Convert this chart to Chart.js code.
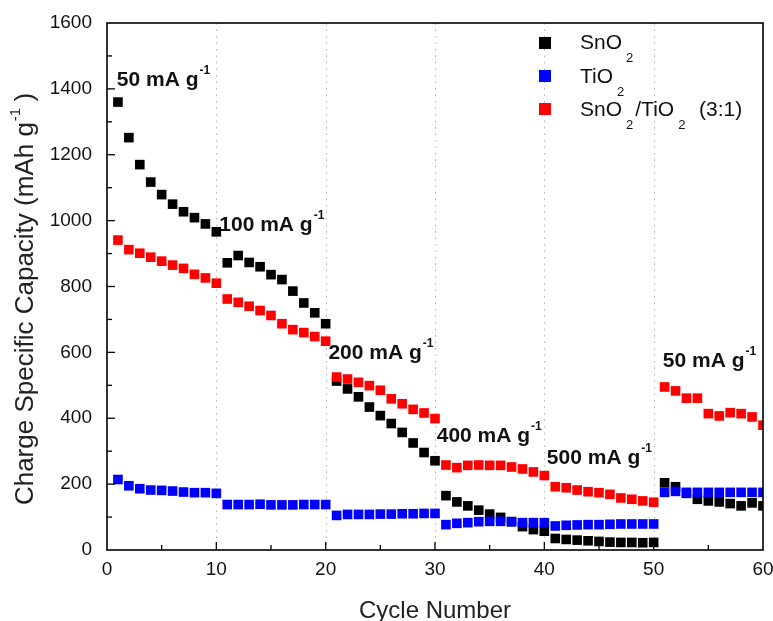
<!DOCTYPE html>
<html><head><meta charset="utf-8">
<script src="https://cdn.jsdelivr.net/npm/chart.js@4"></script>
<style>html,body{margin:0;padding:0;background:#fff}canvas{display:block}</style>
</head><body>
<canvas id="c" width="773" height="621"></canvas>
<script>
const cycles = [1,2,3,4,5,6,7,8,9,10,11,12,13,14,15,16,17,18,19,20,21,22,23,24,25,26,27,28,29,30,31,32,33,34,35,36,37,38,39,40,41,42,43,44,45,46,47,48,49,50,51,52,53,54,55,56,57,58,59,60];
const sno2 = [1360,1252,1170,1117,1079,1050,1027,1009,990,966, 872,894,873,860,836,821,786,750,720,687, 513,489,465,434,408,384,357,325,296,271, 165,146,134,121,109,99,86,71,62,57, 35,32,30,28,26,24,23,23,22,23, 204,192,172,154,149,146,141,134,143,134];
const tio2 = [214,195,186,182,181,179,176,174,174,172, 138,138,138,139,137,137,137,138,138,138, 105,108,108,108,109,109,110,110,111,111, 77,81,83,86,87,87,86,83,83,83, 73,75,76,77,77,78,79,79,79,79, 175,178,175,175,175,175,175,175,175,175];
const composite = [941,912,901,889,877,865,855,837,826,810, 762,752,740,727,712,687,669,660,648,634, 525,519,509,499,485,459,444,427,416,399, 258,250,257,258,257,257,252,246,237,226, 192,189,182,177,174,169,158,154,149,145, 495,483,461,461,414,407,417,414,404,379];
const seriesNames = ['SnO2','TiO2','SnO2/TiO2 (3:1)'];
const seriesColors = ['#000000','#0000ff','#ff0000'];
const xTicks = [0,10,20,30,40,50,60];
const yTicks = [0,200,400,600,800,1000,1200,1400,1600];
// rate labels: [text, cycle anchor, capacity anchor]
const rateLabels = [['50 mA g',0.9,1409],['100 mA g',10.27,970],['200 mA g',20.25,581],['400 mA g',30.16,328],['500 mA g',40.23,260],['50 mA g',50.84,556]];

const FONT = '"Liberation Sans", Arial, sans-serif';
const toPts = arr => arr.map((v,i)=>({x:cycles[i], y:v}));

const decor = {
  id:'decor',
  beforeDatasetsDraw(chart){
    const {ctx, chartArea:a, scales:{x}} = chart;
    ctx.save();
    ctx.strokeStyle = '#b4b4b4'; ctx.lineWidth = 1; ctx.setLineDash([1.5,5]);
    [10,20,30,40,50].forEach(v=>{
      const px = Math.round(x.getPixelForValue(v))+0.5;
      ctx.beginPath(); ctx.moveTo(px,a.top); ctx.lineTo(px,a.bottom); ctx.stroke();
    });
    ctx.restore();
  },
  afterDatasetsDraw(chart){
    const {ctx, chartArea:a, scales:{x,y}} = chart;
    ctx.save();
    // frame
    ctx.strokeStyle='#000'; ctx.lineWidth=1.6;
    ctx.strokeRect(a.left, a.top, a.right-a.left, a.bottom-a.top);
    // ticks
    ctx.lineWidth=1.3;
    for(let v=100; v<1600; v+=100){
      const py = y.getPixelForValue(v); const len = (v%200===0)?8:5;
      ctx.beginPath(); ctx.moveTo(a.left,py); ctx.lineTo(a.left+len,py); ctx.stroke();
    }
    for(let v=5; v<60; v+=5){
      const px = x.getPixelForValue(v); const len = (v%10===0)?8:5;
      ctx.beginPath(); ctx.moveTo(px,a.bottom); ctx.lineTo(px,a.bottom-len); ctx.stroke();
    }
    // rate labels
    ctx.fillStyle='#111'; ctx.textBaseline='alphabetic'; ctx.textAlign='left';
    rateLabels.forEach(([t,cx,cy])=>{
      const px=x.getPixelForValue(cx), py=y.getPixelForValue(cy);
      ctx.font='bold 21px '+FONT; ctx.fillText(t,px,py);
      const w=ctx.measureText(t).width;
      ctx.font='bold 12px '+FONT; ctx.fillText('-1',px+w+1,py-12);
    });
    // legend
    const lx=545, rows=[43,76,109];
    rows.forEach((ry,i)=>{
      ctx.fillStyle=seriesColors[i];
      ctx.fillRect(lx-6,ry-6,12,12);
    });
    ctx.fillStyle='#111';
    const drawParts=(parts,x0,base)=>{
      let cx=x0;
      parts.forEach(([s,sub])=>{
        if(sub){ ctx.font='13px '+FONT; ctx.fillText(s,cx+4,base+13); cx+=ctx.measureText(s).width+6; }
        else { ctx.font='21px '+FONT; ctx.fillText(s,cx,base); cx+=ctx.measureText(s).width; }
      });
    };
    drawParts([['SnO'],['2',1]],580,49);
    drawParts([['TiO'],['2',1]],580,83);
    drawParts([['SnO'],['2',1],['/TiO'],['2',1],['  (3:1)']],580,116);
    // axis titles
    ctx.fillStyle='#222';
    ctx.font='24px '+FONT; ctx.textAlign='center';
    ctx.fillText('Cycle Number',(a.left+a.right)/2,618);
    ctx.save();
    ctx.translate(33,299); ctx.rotate(-Math.PI/2);
    ctx.textAlign='left';
    const p1='Charge Specific Capacity (mAh g', p3=' )';
    ctx.font='26px '+FONT; const w1=ctx.measureText(p1).width, w3=ctx.measureText(p3).width;
    ctx.font='15px '+FONT; const w2=ctx.measureText('-1').width;
    let sx=-(w1+w2+w3)/2;
    ctx.font='26px '+FONT; ctx.fillText(p1,sx,0); sx+=w1;
    ctx.font='15px '+FONT; ctx.fillText('-1',sx+1,-13); sx+=w2;
    ctx.font='26px '+FONT; ctx.fillText(p3,sx,0);
    ctx.restore();
    ctx.restore();
  }
};

const mk=(i,data,order)=>({label:seriesNames[i],data:toPts(data),showLine:false,pointStyle:'rect',pointRadius:6.8,pointHoverRadius:6.8,pointBorderWidth:0,backgroundColor:seriesColors[i],borderColor:seriesColors[i],order});

new Chart(document.getElementById('c'),{
  type:'scatter',
  data:{datasets:[mk(0,sno2,3),mk(1,tio2,2),mk(2,composite,1)]},
  options:{
    responsive:false, animation:false, devicePixelRatio:1,
    layout:{padding:{top:23,right:10,left:0,bottom:0}},
    plugins:{legend:{display:false},tooltip:{enabled:false}},
    scales:{
      x:{type:'linear',min:0,max:60,
        afterBuildTicks:s=>{s.ticks=xTicks.map(v=>({value:v}));},
        afterFit:s=>{s.height=71; s.paddingRight=0; s.paddingLeft=0;},
        grid:{display:false,drawTicks:false},border:{display:false},
        ticks:{padding:8,color:'#111',font:{family:FONT,size:19},callback:v=>String(v)}},
      y:{min:0,max:1600,
        afterBuildTicks:s=>{s.ticks=yTicks.map(v=>({value:v}));},
        afterFit:s=>{s.width=107; s.paddingTop=0; s.paddingBottom=0;},
        grid:{display:false,drawTicks:false},border:{display:false},
        ticks:{padding:15,color:'#111',font:{family:FONT,size:19},callback:v=>String(v)}}
    }
  },
  plugins:[decor]
});
</script>
</body></html>
